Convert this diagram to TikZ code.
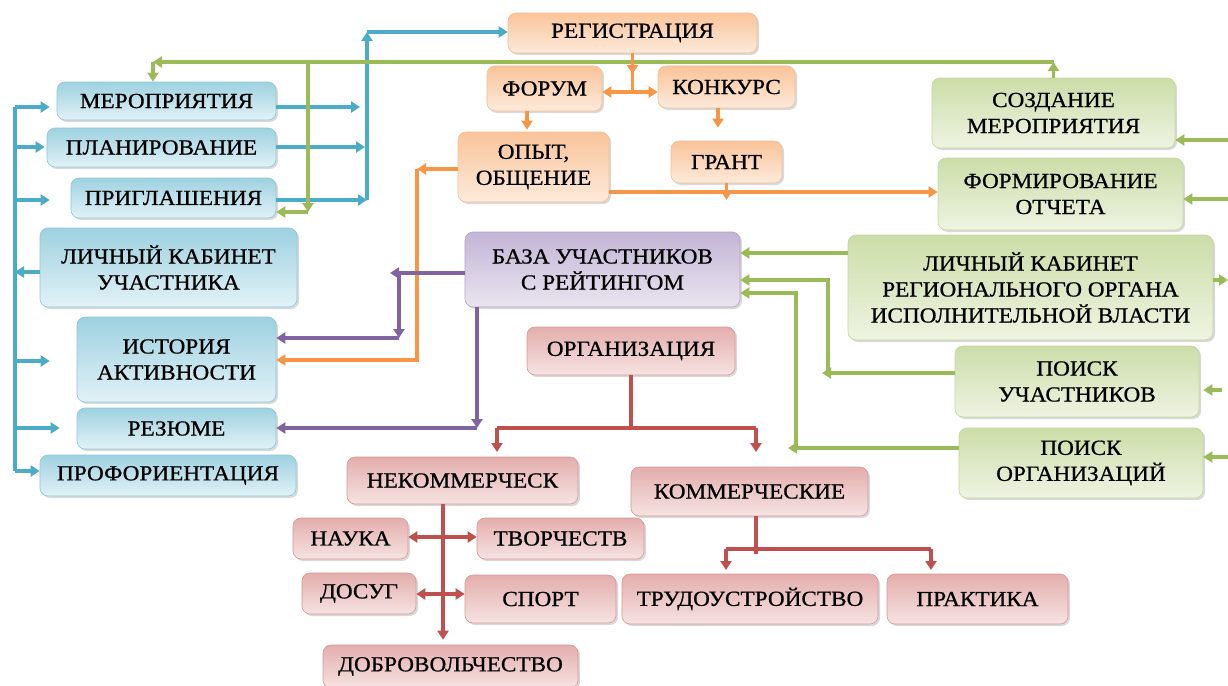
\documentclass[tikz,border=0pt]{standalone}
\usepackage{fontspec}
\setmainfont{Liberation Serif}[FakeStretch=1.08,FakeBold=0.7]
\usetikzlibrary{arrows.meta,shadows}
\definecolor{bl}{HTML}{4BACC6}
\definecolor{gr}{HTML}{9BBB59}
\definecolor{orr}{HTML}{F79646}
\definecolor{pu}{HTML}{8064A2}
\definecolor{rd}{HTML}{C0504D}
\definecolor{blT}{HTML}{9ED1E0}\definecolor{blB}{HTML}{E2F2F7}\definecolor{blD}{HTML}{8CC8D9}
\definecolor{orT}{HTML}{FAC49A}\definecolor{orB}{HTML}{FDEADB}\definecolor{orD}{HTML}{F6BE92}
\definecolor{grT}{HTML}{CCDDA8}\definecolor{grB}{HTML}{EEF4E2}\definecolor{grD}{HTML}{C3D69B}
\definecolor{puT}{HTML}{C3B5D6}\definecolor{puB}{HTML}{EAE5F0}\definecolor{puD}{HTML}{B3A2C7}
\definecolor{rdT}{HTML}{E3AEAD}\definecolor{rdB}{HTML}{F6E3E2}\definecolor{rdD}{HTML}{D99795}
\tikzset{
  base/.style={rounded corners=8pt, align=center, inner sep=0pt, line width=0.6pt,
    font=\fontsize{21.5}{26}\selectfont,
    drop shadow={shadow xshift=2pt, shadow yshift=-2pt, opacity=0.3}},
  bbox/.style={base, draw=blD, top color=blT, bottom color=blB},
  obox/.style={base, draw=orD, top color=orT, bottom color=orB},
  gbox/.style={base, draw=grD, top color=grT, bottom color=grB},
  pbox/.style={base, draw=puD, top color=puT, bottom color=puB},
  rbox/.style={base, draw=rdD, top color=rdT, bottom color=rdB},
  wh/.style 2 args={minimum width=#1pt, minimum height=#2pt},
  ln/.style={line width=3.6pt, draw=#1},
  arr/.style={-{Triangle[width=11pt,length=9pt]}},
  barr/.style={{Triangle[width=11pt,length=9pt]}-{Triangle[width=11pt,length=9pt]}},
}
\begin{document}
\begin{tikzpicture}[x=1pt,y=-1pt]
\useasboundingbox (0,0) rectangle (1228,685);
% blue nodes
\node[bbox, wh={219}{38}] (mer) at (166.5,101) {МЕРОПРИЯТИЯ};
\node[bbox, wh={229}{39}] (plan) at (161.5,147.5) {ПЛАНИРОВАНИЕ};
\node[bbox, wh={205}{40}] (prig) at (173.5,198) {ПРИГЛАШЕНИЯ};
\node[bbox, wh={257}{79}] (lk) at (168.5,267.5) {ЛИЧНЫЙ КАБИНЕТ\\УЧАСТНИКА};
\node[bbox, wh={199}{85}] (ist) at (176.5,359.5) {ИСТОРИЯ\\АКТИВНОСТИ};
\node[bbox, wh={199}{41}] (rez) at (176.5,428.5) {РЕЗЮМЕ};
\node[bbox, wh={256}{41}] (prof) at (168,475.5) {ПРОФОРИЕНТАЦИЯ};
% orange nodes
\node[obox, wh={249}{40}] (reg) at (632.5,33) {РЕГИСТРАЦИЯ};
\node[obox, wh={115}{45}] (forum) at (544.5,88.5) {ФОРУМ};
\node[obox, wh={137}{42}] (konk) at (726.5,87) {КОНКУРС};
\node[obox, wh={151}{70}] (opyt) at (533.5,167) {ОПЫТ,\\ОБЩЕНИЕ};
\node[obox, wh={111}{42}] (grant) at (726.5,162) {ГРАНТ};
% green nodes
\node[gbox, wh={243}{70}] (sozd) at (1053.5,113) {СОЗДАНИЕ\\МЕРОПРИЯТИЯ};
\node[gbox, wh={245}{72}] (form) at (1060.5,194) {ФОРМИРОВАНИЕ\\ОТЧЕТА};
\node[gbox, wh={365}{105}] (lkr) at (1030.5,287.5) {ЛИЧНЫЙ КАБИНЕТ\\РЕГИОНАЛЬНОГО ОРГАНА\\ИСПОЛНИТЕЛЬНОЙ ВЛАСТИ};
\node[gbox, wh={244}{71}] (pu) at (1077,381.5) {ПОИСК\\УЧАСТНИКОВ};
\node[gbox, wh={244}{70}] (po) at (1081,463) {ПОИСК\\ОРГАНИЗАЦИЙ};
% purple
\node[pbox, wh={275}{75}] (baza) at (602.5,269.5) {БАЗА УЧАСТНИКОВ\\С РЕЙТИНГОМ};
% red
\node[rbox, wh={208}{48}] (org) at (631,351) {ОРГАНИЗАЦИЯ};
\node[rbox, wh={231}{47}] (nek) at (462.5,480.5) {НЕКОММЕРЧЕСК};
\node[rbox, wh={237}{49}] (kom) at (749.5,491.5) {КОММЕРЧЕСКИЕ};
\node[rbox, wh={115}{41}] (nauka) at (350.5,538.5) {НАУКА};
\node[rbox, wh={167}{41}] (tvor) at (560.5,538.5) {ТВОРЧЕСТВ};
\node[rbox, wh={114}{41}] (dosug) at (359,593.5) {ДОСУГ};
\node[rbox, wh={151}{48}] (sport) at (540.5,599) {СПОРТ};
\node[rbox, wh={255}{43}] (dobr) at (450.5,666.5) {ДОБРОВОЛЬЧЕСТВО};
\node[rbox, wh={256}{50}] (trud) at (750,599) {ТРУДОУСТРОЙСТВО};
\node[rbox, wh={181}{50}] (prak) at (977.5,599) {ПРАКТИКА};

% ---- blue connectors
\coordinate (bt) at (15,107);
\coordinate (bb) at (15,471);
\draw[ln=bl] (bt) -- (bb);
\draw[ln=bl,arr,shorten >=7pt] (bt) -- (mer.west |- 15,107);
\draw[ln=bl,arr,shorten >=2pt] (15,147) -- (plan.west |- 15,147);
\draw[ln=bl,arr,shorten >=21pt] (15,200) -- (prig.west |- 15,200);
\draw[ln=bl,arr] (lk.west |- 15,272) -- (15,272);
\draw[ln=bl,arr,shorten >=27pt] (15,361) -- (ist.west |- 15,361);
\draw[ln=bl,arr,shorten >=17pt] (15,428) -- (rez.west |- 15,428);
\draw[ln=bl,arr] (bb) -- (prof.west |- bb);
\coordinate (bv1) at (367,200);
\coordinate (bv2) at (367,32);
\draw[ln=bl,arr,shorten >=7pt] (mer.east |- 0,107) -- (367,107);
\draw[ln=bl,arr,shorten >=2pt] (plan.east |- 0,147) -- (367,147);
\draw[ln=bl,arr] (prig.east |- bv1) -- (bv1);
\draw[ln=bl,arr] (bv1) -- (bv2);
\draw[ln=bl,arr] (bv2) -- (reg.west |- bv2);

% ---- green connectors (top)
\coordinate (g1) at (1053.5,62);
\coordinate (g2) at (153,62);
\coordinate (g3) at (308,62);
\coordinate (g4) at (308,212);
\draw[ln=gr,arr] (sozd.north) -- (g1);
\draw[ln=gr,arr] (g1) -- (g2);
\draw[ln=gr,arr] (g2) -- (mer.north -| g2);
\draw[ln=gr,arr] (g3) -- (g4);
\draw[ln=gr,arr] (g4) -- (prig.east |- g4);
% green right edge
\draw[ln=gr,arr] (1228,140) -- (sozd.east |- 0,140);
\draw[ln=gr,arr] (1228,199) -- (form.east |- 0,199);
\draw[ln=gr,arr] (lkr.east |- 0,280) -- (1228,280);
\draw[ln=gr,arr,shorten >=4pt] (1222,390) -- (pu.east |- 0,390);
\draw[ln=gr,arr] (1228,457) -- (po.east |- 0,457);
% green to baza
\draw[ln=gr,arr] (lkr.west |- 0,253) -- (baza.east |- 0,253);
\coordinate (h1) at (828,373);
\coordinate (h2) at (828,280);
\draw[ln=gr,arr] (pu.west |- h1) -- (822,373);
\draw[ln=gr,arr] (h1) -- (h2) -- (baza.east |- h2);
\coordinate (k1) at (796,448);
\coordinate (k2) at (796,293);
\draw[ln=gr,arr] (po.west |- k1) -- (788,448);
\draw[ln=gr,arr] (k1) -- (k2) -- (baza.east |- k2);

% ---- orange connectors
\coordinate (o1) at (632.5,92);
\draw[ln=orr,arr] (reg.south) -- (632.5,74);
\draw[ln=orr] (632.5,70) -- (o1);
\draw[ln=orr,arr] (o1) -- (forum.east |- o1);
\draw[ln=orr,arr] (o1) -- (konk.west |- o1);
\draw[ln=orr,arr,shorten >=2pt] (forum.south -| 527,0) -- (opyt.north -| 527,0);
\draw[ln=orr,arr,shorten >=13pt] (konk.south -| 718,0) -- (grant.north -| 718,0);
\draw[ln=orr,arr] (opyt.east |- 0,192) -- (form.west |- 0,192);
\draw[ln=orr,arr] (grant.south) -- (726.5,200);
\coordinate (o2) at (417,169);
\coordinate (o3) at (417,360);
\draw[ln=orr,arr] (opyt.west |- o2) -- (o2);
\draw[ln=orr,arr] (o2) -- (o3) -- (ist.east |- o3);

% ---- purple connectors
\coordinate (p1) at (399,273);
\coordinate (p2) at (399,338);
\draw[ln=pu,arr] (baza.west |- p1) -- (390,273);
\draw[ln=pu,arr] (p1) -- (p2);
\draw[ln=pu,arr] (p2) -- (ist.east |- p2);
\coordinate (p3) at (477,428);
\draw[ln=pu,arr] (baza.south -| p3) -- (p3);
\draw[ln=pu,arr] (p3) -- (rez.east |- p3);

% ---- red connectors
\coordinate (r1) at (631,428);
\coordinate (r2) at (497,428);
\coordinate (r3) at (756,428);
\draw[ln=rd] (org.south) -- (r1);
\draw[ln=rd] (r2) -- (r3);
\draw[ln=rd,arr] (r2) -- (497,452);
\draw[ln=rd,arr] (r3) -- (756,452);
\draw[ln=rd,arr,shorten >=5pt] (nek.south -| 443,0) -- (dobr.north -| 443,0);
\draw[ln=rd,barr] (nauka.east |- 0,537) -- (tvor.west |- 0,537);
\draw[ln=rd,barr] (dosug.east |- 0,594) -- (sport.west |- 0,594);
\coordinate (s1) at (756,549);
\coordinate (s2) at (726,549);
\coordinate (s3) at (931,549);
\draw[ln=rd] (kom.south -| s1) -- (756,554);
\draw[ln=rd] (s2) -- (s3);
\draw[ln=rd,arr] (s2) -- (726,570);
\draw[ln=rd,arr] (s3) -- (931,570);
\end{tikzpicture}
\end{document}
